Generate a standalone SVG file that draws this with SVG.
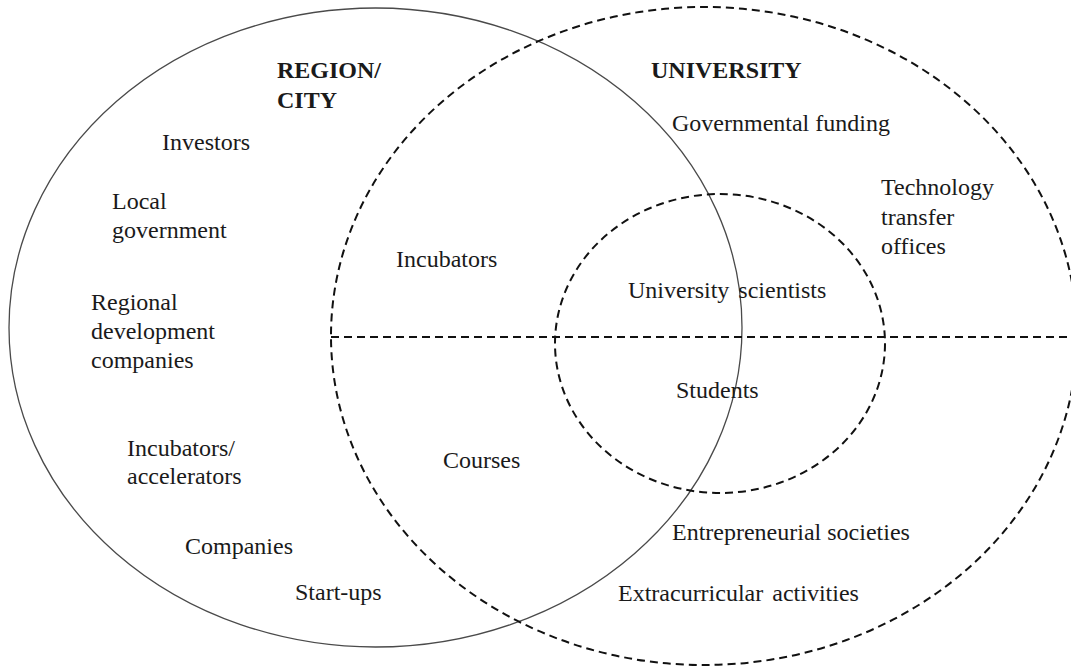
<svg xmlns="http://www.w3.org/2000/svg" width="1071" height="668" viewBox="0 0 1071 668">
<style>
.t{font-family:"Liberation Serif","Times New Roman",serif;font-size:24px;fill:#1a1a1a}
.b{font-weight:bold}
.solid{fill:none;stroke:#4a4a4a;stroke-width:1.3}
.dash{fill:none;stroke:#111;stroke-width:2;stroke-dasharray:8 5}
</style>
<rect width="1071" height="668" fill="#fff"/>
<g id="connectors">
<ellipse id="region-city" class="solid" cx="375.5" cy="327.5" rx="366.5" ry="319.5"/>
<ellipse id="university" class="dash" cx="704" cy="336" rx="373" ry="329"/>
<ellipse id="university-core" class="dash" cx="720" cy="343.5" rx="165" ry="149.5"/>
<line id="divider" class="dash" x1="331" y1="337" x2="1071" y2="337"/>
</g>
<g id="region-labels">
<text class="t b" x="277" y="78">REGION/</text>
<text class="t b" x="277" y="108">CITY</text>
<text class="t" x="162" y="150">Investors</text>
<text class="t" x="112" y="209">Local</text>
<text class="t" x="112" y="238">government</text>
<text class="t" x="91" y="310">Regional</text>
<text class="t" x="91" y="339">development</text>
<text class="t" x="91" y="368">companies</text>
<text class="t" x="127" y="456">Incubators/</text>
<text class="t" x="127" y="484">accelerators</text>
<text class="t" x="185" y="554">Companies</text>
<text class="t" x="295" y="600">Start-ups</text>
</g>
<g id="overlap-labels">
<text class="t" x="396" y="267">Incubators</text>
<text class="t" x="443" y="468">Courses</text>
</g>
<g id="university-labels">
<text class="t b" x="651" y="78">UNIVERSITY</text>
<text class="t" x="672" y="131">Governmental funding</text>
<text class="t" x="881" y="195">Technology</text>
<text class="t" x="881" y="225">transfer</text>
<text class="t" x="881" y="254">offices</text>
<text class="t" x="628" y="298">University <tspan dx="3">scientists</tspan></text>
<text class="t" x="676" y="398">Students</text>
<text class="t" x="672" y="540">Entrepreneurial societies</text>
<text class="t" x="618" y="601">Extracurricular <tspan dx="3">activities</tspan></text>
</g>
</svg>
